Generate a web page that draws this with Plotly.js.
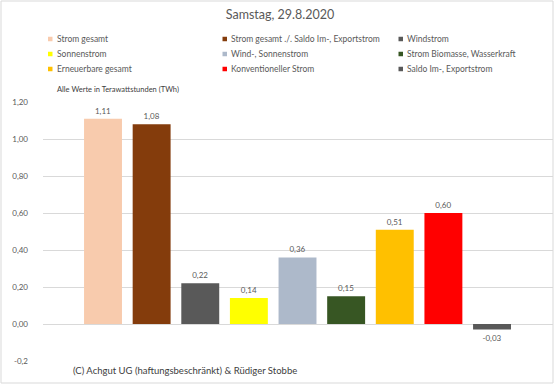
<!DOCTYPE html>
<html>
<head>
<meta charset="utf-8">
<script src="https://cdn.plot.ly/plotly-3.0.1.min.js"></script>
<style>html,body{margin:0;padding:0;background:#fff;}#chart{width:555px;height:385px;}</style>
</head>
<body>
<div id="chart"></div>
<script>
const categories = [
  "Strom gesamt",
  "Strom gesamt ./. Saldo Im-, Exportstrom",
  "Windstrom",
  "Sonnenstrom",
  "Wind-, Sonnenstrom",
  "Strom Biomasse, Wasserkraft",
  "Erneuerbare gesamt",
  "Konventioneller Strom",
  "Saldo Im-, Exportstrom"
];
const values = [1.11, 1.08, 0.22, 0.14, 0.36, 0.15, 0.51, 0.60, -0.03];
const colors = ["#F8CBAD", "#843C0C", "#595959", "#FFFF00", "#ADB9CA", "#375623", "#FFC000", "#FF0000", "#595959"];
const yTickVals = [-0.2, 0, 0.2, 0.4, 0.6, 0.8, 1.0, 1.2];
const yTickText = ["-0,2", "0,00", "0,20", "0,40", "0,60", "0,80", "1,00", "1,20"];
const titleText = "Samstag, 29.8.2020";
const unitNote = "Alle Werte in Terawattstunden (TWh)";
const copyright = "(C) Achgut UG (haftungsbeschränkt) & Rüdiger Stobbe";

const FONT = "Lato, 'Open Sans', sans-serif";

const traces = categories.map((c, i) => ({
  type: "bar",
  name: c,
  x: [c],
  y: [values[i]],
  width: 0.78,
  marker: {color: colors[i]},
  text: [values[i].toFixed(2).replace(".", ",")],
  textposition: "outside",
  textfont: {family: FONT, size: 8, color: "#595959"},
  cliponaxis: false,
  showlegend: false,
  hoverinfo: "skip"
}));

const W = 555, H = 385;
const L = 43, R = 2, T = 102, B = 24;
const pw = W - L - R, ph = H - T - B;
const px = v => (v - L) / pw;
const py = v => (H - B - v) / ph;

// legend layout (3 columns x 3 rows), built from categories/colors
const legSwatchX = [48, 222.5, 398.5];
const legTextX = [55, 229, 404.5];
const legRowY = [39, 54, 69];
const SW = 4.5;

const shapes = [];
const annotations = [];
categories.forEach((c, i) => {
  const col = i % 3, row = Math.floor(i / 3);
  const cy = legRowY[row];
  shapes.push({type: "rect", xref: "paper", yref: "paper", layer: "above",
    x0: px(legSwatchX[col]), x1: px(legSwatchX[col] + SW),
    y0: py(cy + SW / 2), y1: py(cy - SW / 2),
    fillcolor: colors[i], line: {width: 0}});
  annotations.push({text: c, xref: "paper", yref: "paper",
    x: px(legTextX[col]), y: py(cy), xanchor: "left", yanchor: "middle",
    showarrow: false, font: {family: FONT, size: 8.5, color: "#595959"}});
});

shapes.push({type: "rect", xref: "paper", yref: "paper", layer: "above",
  x0: px(44), x1: px(478), y0: py(379), y1: py(354),
  fillcolor: "#fff", line: {width: 0}});
shapes.push({type: "rect", xref: "paper", yref: "paper", layer: "above",
  x0: px(1), x1: px(553), y0: py(383), y1: py(1),
  fillcolor: "rgba(0,0,0,0)", line: {color: "#D9D9D9", width: 1}});

annotations.push({text: unitNote, xref: "paper", yref: "paper", x: px(55), y: py(89),
  xanchor: "left", yanchor: "middle", showarrow: false,
  font: {family: FONT, size: 7.5, color: "#404040"}});
annotations.push({text: copyright, xref: "paper", yref: "paper", x: px(185), y: py(370),
  xanchor: "center", yanchor: "middle", showarrow: false,
  font: {family: FONT, size: 9.5, color: "#404040"}});

const layout = {
  width: W, height: H,
  margin: {l: L, r: R, t: T, b: B},
  paper_bgcolor: "#fff",
  plot_bgcolor: "#fff",
  barmode: "overlay",
  font: {family: FONT, color: "#595959"},
  title: {text: titleText, x: 280 / W, xanchor: "center", y: 1 - 15 / H, yanchor: "middle",
          font: {family: FONT, size: 12.5, color: "#595959"}},
  showlegend: false,
  xaxis: {
    type: "category",
    range: [-1.234, 9.254],
    showticklabels: false,
    showgrid: false,
    zeroline: false,
    showline: false,
    ticks: ""
  },
  yaxis: {
    range: [-0.2, 1.2],
    tickvals: yTickVals,
    ticktext: yTickText,
    tickfont: {family: FONT, size: 8, color: "#595959"},
    ticklabelstandoff: 14,
    showgrid: true,
    gridcolor: "#D9D9D9",
    gridwidth: 1,
    zeroline: false,
    showline: false,
    ticks: ""
  },
  shapes: shapes,
  annotations: annotations
};

Plotly.newPlot("chart", traces, layout, {displayModeBar: false, staticPlot: true});
</script>
</body>
</html>
